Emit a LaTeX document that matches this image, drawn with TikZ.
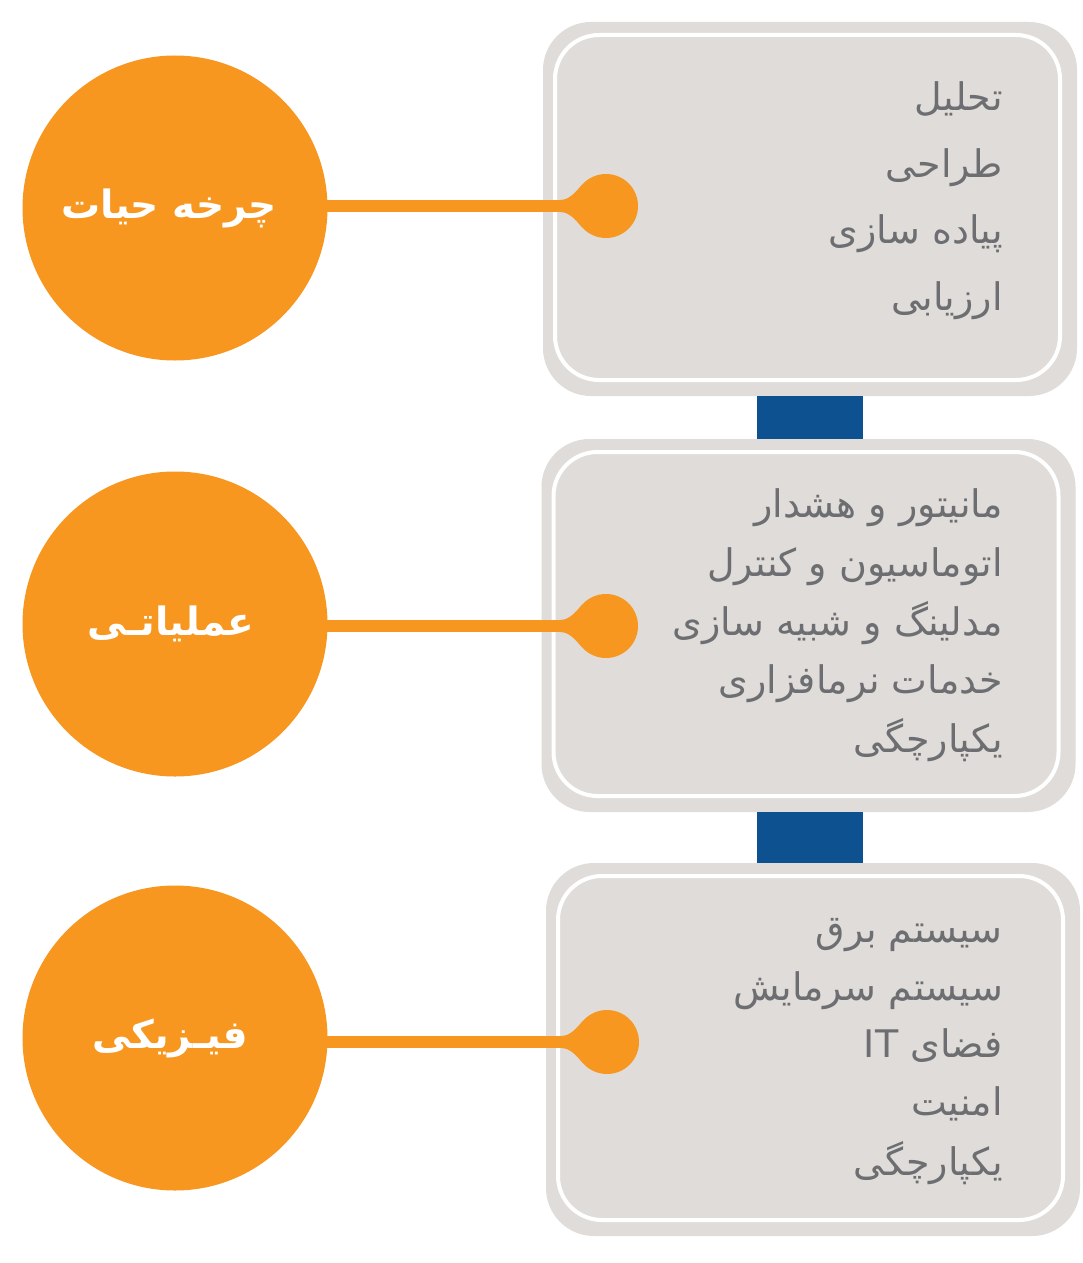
\documentclass[tikz,border=0pt]{standalone}
\usepackage{fontspec}
\usetikzlibrary{calc}
\newfontfamily\arabicfont[Script=Arabic]{DejaVu Sans}
\TeXXeTstate=1
\definecolor{orng}{HTML}{F7971F}
\definecolor{boxgray}{HTML}{DFDCD9}
\definecolor{txtgray}{HTML}{6D6E71}
\definecolor{navy}{HTML}{0E5191}
\tikzset{
  outerbox/.style={fill=boxgray, rounded corners=48pt, minimum width=534pt, minimum height=374pt, inner sep=0pt, outer sep=0pt},
  innerbox/.style={draw=white, line width=4pt, fill=boxgray, rounded corners=44pt, minimum width=505pt, minimum height=345pt, inner sep=0pt, outer sep=0pt},
  phase/.style={circle, fill=orng, minimum size=305pt, inner sep=0pt, outer sep=0pt, text=white, font=\arabicfont\bfseries\fontsize{39}{46}\selectfont},
  knob/.style={circle, fill=orng, minimum size=64pt, inner sep=0pt, outer sep=0pt},
  item/.style={anchor=base east, text=txtgray, inner sep=0pt, font=\arabicfont\fontsize{38}{44}\selectfont},
  link/.style={draw=orng, line width=12pt},
  bridge/.style={draw=navy, line width=106pt},
}
\begin{document}
\begin{tikzpicture}[x=1pt,y=-1pt]
\useasboundingbox[fill=white] (0,0) rectangle (1083,1263);
% boxes
\node[outerbox] (b1) at (810,209) {};
\node[innerbox] (b1i) at (807.5,207.5) {};
\node[outerbox, minimum height=373pt] (b2) at (808.5,625.5) {};
\node[innerbox, minimum height=344pt] (b2i) at (806,624) {};
\node[outerbox, minimum height=373pt] (b3) at (813,1049.5) {};
\node[innerbox, minimum height=344pt] (b3i) at (810.5,1048) {};
% blue bridges
\draw[bridge] (b1.south) -- (b1.south |- b2.north);
\draw[bridge] (b2.south -| b1.south) -- (b1.south |- b3.north);
% items box 1
\node[item] (t11) at (1003,110) {\beginR تحلیل\endR};
\node[item] (t12) at (1003,177) {\beginR طراحی\endR};
\node[item] (t13) at (1003,243) {\beginR پیاده سازی\endR};
\node[item] (t14) at (1003,310) {\beginR ارزیابی\endR};
% items box 2
\node[item] (t21) at (1003,517) {\beginR مانیتور و هشدار\endR};
\node[item] (t22) at (1003,576) {\beginR اتوماسیون و کنترل\endR};
\node[item] (t23) at (1003,635) {\beginR مدلینگ و شبیه سازی\endR};
\node[item] (t24) at (1003,693) {\beginR خدمات نرمافزاری\endR};
\node[item] (t25) at (1003,752) {\beginR یکپارچگی\endR};
% items box 3
\node[item] (t31) at (1003,942) {\beginR سیستم برق\endR};
\node[item] (t32) at (1003,1000) {\beginR سیستم سرمایش\endR};
\node[item] (t33) at (1003,1057) {\beginR فضای \beginL IT\endL\endR};
\node[item] (t34) at (1003,1115) {\beginR امنیت\endR};
\node[item] (t35) at (1003,1175) {\beginR یکپارچگی\endR};
% circles and knobs
\node[knob] (d1) at (606,206) {};
\node[knob] (d2) at (606,626) {};
\node[knob] (d3) at (607,1042) {};
\foreach \d in {d1,d2,d3}{
  \fill[orng] ($(\d)+(-46,-6)$) .. controls ($(\d)+(-36,-6)$) and ($(\d)+(-30,-15)$) .. ($(\d)+(-24,-21)$)
    -- (\d.center) -- ($(\d)+(-24,21)$) .. controls ($(\d)+(-30,15)$) and ($(\d)+(-36,6)$) .. ($(\d)+(-46,6)$) -- cycle;
}
\node[phase] (c1) at (175,208) {\beginR چرخه حیات\endR\kern12pt};
\node[phase] (c2) at (175,624) {\beginR عملیاتـی\endR\kern8pt};
\node[phase] (c3) at (175,1038) {\beginR فیـزیکی\endR\kern10pt};
\draw[link] ([xshift=-2pt]c1.east |- d1.center) -- (d1.center);
\draw[link] ([xshift=-2pt]c2.east |- d2.center) -- (d2.center);
\draw[link] ([xshift=-2pt]c3.east |- d3.center) -- (d3.center);
\end{tikzpicture}
\end{document}
